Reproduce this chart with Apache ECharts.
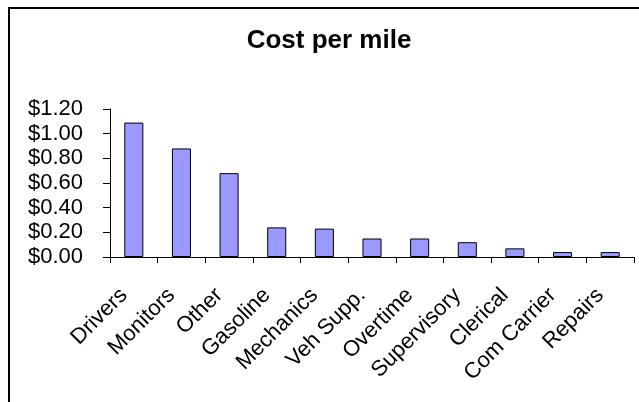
<!DOCTYPE html>
<html>
<head>
<meta charset="utf-8">
<script src="https://cdn.jsdelivr.net/npm/echarts@6/dist/echarts.min.js"></script>
<style>
  html, body { margin: 0; padding: 0; background: #fff; }
  #chart { width: 639px; height: 402px; }
</style>
</head>
<body>
<div id="chart"></div>
<script>
// Cost categories and their cost per mile (dollars)
const categories = ['Drivers', 'Monitors', 'Other', 'Gasoline', 'Mechanics', 'Veh Supp.', 'Overtime', 'Supervisory', 'Clerical', 'Com Carrier', 'Repairs'];
const costPerMile = [1.09, 0.88, 0.68, 0.24, 0.23, 0.15, 0.15, 0.12, 0.07, 0.04, 0.04];
const yTicks = { min: 0, max: 1.2, step: 0.2 };

const chart = echarts.init(document.getElementById('chart'), null, { renderer: 'canvas' });

const font = 'Arial, "Liberation Sans", sans-serif';

chart.setOption({
  animation: false,
  backgroundColor: '#fff',
  graphic: [{
    type: 'rect',
    shape: { x: 9, y: 8, width: 700, height: 500 },
    style: { fill: 'none', stroke: '#000', lineWidth: 2 },
    silent: true
  }, {
    type: 'text',
    x: 329,
    y: 28,
    style: {
      text: 'Cost per mile',
      textAlign: 'center',
      textVerticalAlign: 'top',
      font: 'bold 26px ' + font,
      fill: '#000'
    },
    silent: true
  }],
  grid: { left: 110, right: 5, top: 109, bottom: 145, containLabel: false },
  xAxis: {
    type: 'category',
    data: categories,
    boundaryGap: true,
    axisLine: { lineStyle: { color: '#000', width: 1 } },
    axisTick: { show: true, length: 6, lineStyle: { color: '#000' } },
    axisLabel: {
      rotate: 45,
      interval: 0,
      margin: 25,
      padding: [0, 14, 0, 0],
      fontFamily: font,
      fontSize: 22,
      color: '#000'
    }
  },
  yAxis: {
    type: 'value',
    min: yTicks.min,
    max: yTicks.max,
    interval: yTicks.step,
    axisLine: { show: true, lineStyle: { color: '#000', width: 1 } },
    axisTick: { show: true, length: 7, lineStyle: { color: '#000' } },
    splitLine: { show: false },
    axisLabel: {
      margin: 27,
      fontFamily: font,
      fontSize: 22,
      color: '#000',
      formatter: v => '$' + v.toFixed(2)
    }
  },
  series: [{
    type: 'bar',
    data: costPerMile,
    barWidth: '40%',
    itemStyle: { color: '#9999FF', borderColor: '#000', borderWidth: 1 }
  }]
});
</script>
</body>
</html>
